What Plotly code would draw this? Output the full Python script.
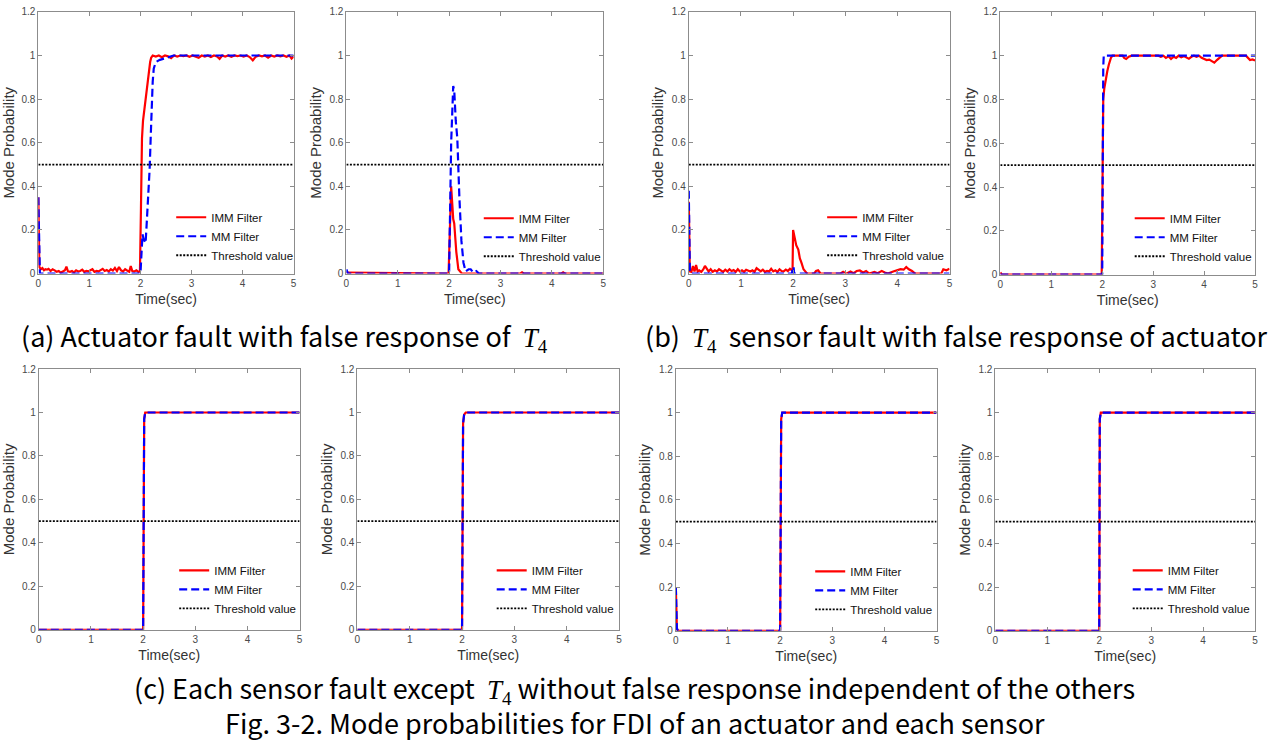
import plotly.graph_objects as go

W, H = 1282, 743

# ---------------- data (time [s], mode probability) ----------------
# (a) left: actuator fault
a1_imm = [(0, 0.35), (0.02, 0.03), (0.05, 0.02), (0.08, 0.025), (0.11, 0.015), (0.14, 0.02), (0.17, 0.018),
          (0.2, 0.022), (0.24, 0.012), (0.28, 0.02), (0.32, 0.015), (0.36, 0.008), (0.4, 0.012), (0.44, 0.005),
          (0.48, 0.01), (0.52, 0.015), (0.55, 0.032), (0.58, 0.01), (0.62, 0.008), (0.66, 0.012), (0.7, 0.006),
          (0.74, 0.015), (0.78, 0.01), (0.82, 0.012), (0.86, 0.018), (0.9, 0.008), (0.94, 0.012), (0.98, 0.01),
          (1.02, 0.015), (1.06, 0.02), (1.1, 0.008), (1.14, 0.012), (1.18, 0.01), (1.22, 0.018), (1.26, 0.022),
          (1.3, 0.012), (1.34, 0.016), (1.38, 0.01), (1.42, 0.02), (1.46, 0.014), (1.5, 0.026), (1.54, 0.012),
          (1.58, 0.03), (1.62, 0.015), (1.66, 0.01), (1.7, 0.02), (1.74, 0.012), (1.78, 0.008), (1.81, 0.035),
          (1.84, 0.012), (1.88, 0.01), (1.92, 0.015), (1.96, 0.008), (1.99, 0.01),
          (2.01, 0.3), (2.02, 0.5), (2.03, 0.62), (2.05, 0.7), (2.07, 0.74), (2.09, 0.76), (2.11, 0.8),
          (2.13, 0.84), (2.15, 0.88), (2.17, 0.93), (2.19, 0.97), (2.21, 0.99), (2.24, 1.0),
          (2.3, 0.995), (2.36, 1.0), (2.42, 0.992), (2.48, 1.0), (2.54, 0.996), (2.6, 0.988), (2.66, 1.0),
          (2.72, 0.995), (2.78, 1.0), (2.84, 0.997), (2.9, 1.0), (2.96, 0.994), (3.02, 1.0), (3.08, 0.996),
          (3.14, 0.99), (3.2, 1.0), (3.26, 0.995), (3.32, 1.0), (3.38, 0.993), (3.44, 1.0), (3.5, 0.996),
          (3.55, 0.985), (3.6, 1.0), (3.66, 0.995), (3.72, 1.0), (3.78, 0.994), (3.84, 1.0), (3.9, 0.997),
          (3.96, 1.0), (4.02, 0.995), (4.08, 1.0), (4.14, 0.993), (4.2, 0.978), (4.26, 0.995), (4.32, 1.0),
          (4.38, 0.996), (4.44, 1.0), (4.5, 0.99), (4.56, 1.0), (4.62, 0.995), (4.68, 1.0), (4.74, 0.996),
          (4.8, 1.0), (4.86, 0.994), (4.92, 1.0), (4.96, 0.986), (5.0, 0.995)]
a1_mm = [(0, 0.35), (0.03, 0.0), (2.0, 0.0), (2.02, 0.12), (2.04, 0.18), (2.06, 0.16), (2.08, 0.15), (2.1, 0.14),
         (2.12, 0.22), (2.14, 0.3), (2.16, 0.38), (2.18, 0.48), (2.2, 0.62), (2.22, 0.78), (2.24, 0.88),
         (2.26, 0.94), (2.3, 0.97), (2.38, 0.98), (2.5, 0.99), (2.65, 1.0), (5.0, 1.0)]

# (a) right: false response of T4
a2_imm = [(0, 0.005), (1.99, 0.0), (2.04, 0.4), (2.06, 0.29), (2.08, 0.25), (2.1, 0.23), (2.14, 0.1),
          (2.18, 0.02), (2.25, 0.0), (3.38, 0.0), (3.42, 0.006), (3.46, 0.0), (4.18, 0.0), (4.22, 0.006),
          (4.26, 0.0), (5.0, 0.0)]
a2_mm = [(0, 0.02), (0.03, 0.0), (2.0, 0.0), (2.04, 0.6), (2.08, 0.86), (2.1, 0.84), (2.13, 0.7), (2.16, 0.62),
         (2.2, 0.35), (2.24, 0.15), (2.28, 0.05), (2.32, 0.01), (2.38, 0.02), (2.42, 0.02), (2.47, 0.005),
         (2.53, 0.012), (2.58, 0.0), (5.0, 0.0)]

# (b) left: false response of actuator
b1_imm = [(0, 0.33), (0.02, 0.01), (0.05, 0.008), (0.08, 0.035), (0.11, 0.01), (0.14, 0.04), (0.17, 0.01),
          (0.2, 0.015), (0.24, 0.008), (0.28, 0.02), (0.31, 0.035), (0.34, 0.025), (0.38, 0.01), (0.42, 0.02),
          (0.46, 0.008), (0.5, 0.015), (0.54, 0.01), (0.58, 0.02), (0.62, 0.012), (0.66, 0.008), (0.7, 0.018),
          (0.74, 0.01), (0.78, 0.02), (0.82, 0.012), (0.86, 0.016), (0.9, 0.008), (0.94, 0.02), (0.98, 0.01),
          (1.02, 0.015), (1.06, 0.008), (1.1, 0.018), (1.14, 0.012), (1.18, 0.01), (1.22, 0.015), (1.26, 0.008),
          (1.3, 0.025), (1.34, 0.015), (1.38, 0.01), (1.42, 0.018), (1.46, 0.008), (1.5, 0.012), (1.54, 0.01),
          (1.58, 0.022), (1.62, 0.01), (1.66, 0.015), (1.7, 0.008), (1.74, 0.02), (1.78, 0.012), (1.82, 0.01),
          (1.86, 0.018), (1.9, 0.012), (1.94, 0.022), (1.98, 0.015), (1.99, 0.02),
          (2.0, 0.2), (2.03, 0.17), (2.06, 0.13), (2.1, 0.11), (2.13, 0.07), (2.16, 0.05), (2.2, 0.02),
          (2.27, 0.0), (2.4, 0.0), (2.44, 0.012), (2.48, 0.015), (2.53, 0.0), (2.9, 0.0), (2.96, 0.008),
          (3.02, 0.0), (3.1, 0.01), (3.16, 0.002), (3.22, 0.012), (3.28, 0.015), (3.34, 0.005), (3.4, 0.012),
          (3.46, 0.0), (3.56, 0.008), (3.62, 0.002), (3.7, 0.012), (3.76, 0.005), (3.82, 0.0), (3.92, 0.01),
          (4.0, 0.015), (4.06, 0.02), (4.12, 0.018), (4.17, 0.03), (4.22, 0.02), (4.28, 0.012), (4.34, 0.0),
          (4.84, 0.0), (4.88, 0.02), (4.94, 0.015), (5.0, 0.022)]
b1_mm = [(0, 0.38), (0.02, 0.02), (0.04, 0.0), (1.98, 0.0), (1.99, 0.03), (2.01, 0.03), (2.02, 0.0), (5.0, 0.0)]

# (b) right: T4 sensor fault
b2_imm = [(0, 0.01), (0.03, 0.0), (1.99, 0.0), (2.01, 0.5), (2.02, 0.8), (2.04, 0.85), (2.06, 0.88), (2.08, 0.9),
          (2.1, 0.93), (2.13, 0.96), (2.17, 0.99), (2.2, 1.0), (2.4, 1.0), (2.43, 0.99), (2.47, 0.985),
          (2.52, 0.995), (2.58, 1.0), (3.1, 1.0), (3.15, 0.995), (3.2, 1.0), (3.25, 0.99), (3.3, 0.997),
          (3.35, 0.985), (3.4, 0.995), (3.45, 0.99), (3.5, 1.0), (3.55, 0.993), (3.6, 0.998), (3.65, 0.99),
          (3.7, 0.986), (3.75, 0.995), (3.8, 1.0), (3.85, 0.995), (3.9, 1.0), (3.95, 0.99), (4.0, 0.985),
          (4.05, 0.98), (4.1, 0.982), (4.15, 0.975), (4.2, 0.968), (4.25, 0.98), (4.3, 0.99), (4.35, 1.0),
          (4.82, 1.0), (4.86, 0.99), (4.9, 0.98), (4.95, 0.983), (5.0, 0.978)]
b2_mm = [(0, 0.0), (2.0, 0.0), (2.02, 0.95), (2.03, 1.0), (5.0, 1.0)]

# (c) each sensor fault except T4
c1_imm = [(0, 0.0), (2.0, 0.0), (2.02, 0.97), (2.04, 1.0), (5.0, 1.0)]
c1_mm = [(0, 0.0), (2.0, 0.0), (2.02, 0.97), (2.04, 1.0), (5.0, 1.0)]
c2_imm = [(0, 0.0), (2.0, 0.0), (2.02, 0.95), (2.04, 0.99), (2.07, 1.0), (5.0, 1.0)]
c2_mm = [(0, 0.0), (2.0, 0.0), (2.02, 0.95), (2.04, 0.99), (2.07, 1.0), (5.0, 1.0)]
c3_imm = [(0, 0.2), (0.02, 0.01), (0.04, 0.0), (2.0, 0.0), (2.02, 0.97), (2.04, 1.0), (5.0, 1.0)]
c3_mm = [(0, 0.2), (0.02, 0.01), (0.04, 0.0), (2.0, 0.0), (2.02, 0.97), (2.04, 1.0), (5.0, 1.0)]
c4_imm = [(0, 0.0), (2.0, 0.0), (2.01, 0.97), (2.03, 1.0), (5.0, 1.0)]
c4_mm = [(0, 0.0), (2.0, 0.0), (2.01, 0.97), (2.03, 1.0), (5.0, 1.0)]

threshold = 0.5
t_range = [0, 5]
p_range = [0, 1.2]
series_names = ["IMM Filter", "MM Filter", "Threshold value"]

panels = [(a1_imm, a1_mm), (a2_imm, a2_mm), (b1_imm, b1_mm), (b2_imm, b2_mm),
          (c1_imm, c1_mm), (c2_imm, c2_mm), (c3_imm, c3_mm), (c4_imm, c4_mm)]

# ---------------- layout geometry (pixels) ----------------
boxes = [(35.5, 292, 6, 272), (345, 603, 6, 272), (689, 951, 6, 272), (1002, 1258, 6, 273),
         (36, 298, 369, 634), (356, 619, 369, 634), (676, 938, 369, 635), (997, 1258, 369, 635)]
legend_pos = [(169, 200), (478, 201), (823, 200), (1132, 201),
              (172, 559), (491, 559), (811, 560), (1130, 559)]

fig = go.Figure()
axis_font = "Liberation Sans, Arial, sans-serif"
grey = "#8c8c8c"

for i, ((imm, mm), (x0, x1, y0, y1), (lx, ly)) in enumerate(zip(panels, boxes, legend_pos)):
    n = i + 1
    xa = "x" if n == 1 else f"x{n}"
    ya = "y" if n == 1 else f"y{n}"
    lg = "legend" if n == 1 else f"legend{n}"
    fig.add_trace(go.Scatter(x=[p[0] for p in imm], y=[p[1] for p in imm], mode="lines",
                             name=series_names[0], line=dict(color="#ff0000", width=2.2),
                             xaxis=xa, yaxis=ya, legend=lg))
    fig.add_trace(go.Scatter(x=[p[0] for p in mm], y=[p[1] for p in mm], mode="lines",
                             name=series_names[1], line=dict(color="#0000ff", width=2.2, dash="8px,4px"),
                             xaxis=xa, yaxis=ya, legend=lg))
    fig.add_trace(go.Scatter(x=t_range, y=[threshold, threshold], mode="lines",
                             name=series_names[2], line=dict(color="#000000", width=1.8, dash="2px,1.5px"),
                             xaxis=xa, yaxis=ya, legend=lg))
    common = dict(showgrid=False, zeroline=False, showline=True, linecolor=grey, linewidth=1,
                  mirror="ticks", ticks="inside", ticklen=4, tickcolor=grey,
                  tickfont=dict(family=axis_font, size=10, color="#4a4a4a"))
    fig.layout[f"xaxis{'' if n == 1 else n}"] = dict(
        common, domain=[x0 / W, x1 / W], range=t_range, dtick=1, anchor=ya,
        title=dict(text="Time(sec)", font=dict(family=axis_font, size=14, color="#333333"), standoff=6))
    fig.layout[f"yaxis{'' if n == 1 else n}"] = dict(
        common, domain=[1 - y1 / H, 1 - y0 / H], range=p_range, dtick=0.2, anchor=xa,
        title=dict(text="Mode Probability", font=dict(family=axis_font, size=15, color="#333333"), standoff=4))
    fig.layout[lg] = dict(x=lx / W, y=1 - ly / H, xanchor="left", yanchor="top",
                          bgcolor="rgba(0,0,0,0)", borderwidth=0, itemwidth=30,
                          font=dict(family=axis_font, size=11.5, color="#111111"), tracegroupgap=0)

cap_font = dict(family="Noto Sans CJK KR, Noto Sans, sans-serif", size=27, color="#000000")
T4 = "<span style='font-family:Liberation Serif, DejaVu Serif, serif'><i>T</i><sub>4</sub></span>"
captions = [
    ("(a) Actuator fault with false response of \u00a0" + T4, 283, 336),
    ("(b) \u00a0" + T4 + "\u00a0 sensor fault with false response of actuator", 958, 336),
    ("(c) Each sensor fault except \u00a0" + T4 + "\u00a0without false response independent of the others", 634, 694),
    ("Fig. 3-2. Mode probabilities for FDI of an actuator and each sensor", 635, 728),
]
for text, cx, cy in captions:
    fig.add_annotation(text=text, x=cx / W, y=1 - cy / H, xref="paper", yref="paper",
                       xanchor="center", yanchor="middle", showarrow=False, font=cap_font, borderpad=0)

fig.update_layout(width=W, height=H, margin=dict(l=0, r=0, t=0, b=0),
                  paper_bgcolor="white", plot_bgcolor="white", showlegend=True)

fix_page = ("document.documentElement.style.margin='0';document.documentElement.style.padding='0';"
            "document.documentElement.style.overflow='hidden';document.documentElement.style.height='743px';"
            "document.body.style.margin='0';document.body.style.padding='0';"
            "document.body.style.overflow='hidden';document.body.style.height='743px';")
fig.write_html("out.html", config={"displayModeBar": False}, post_script=fix_page)
